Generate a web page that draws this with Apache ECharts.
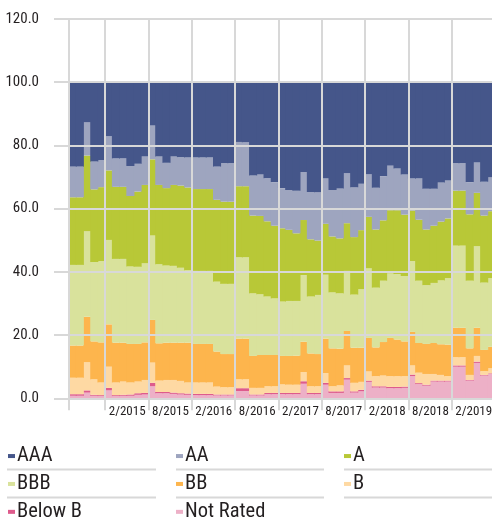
<!DOCTYPE html>
<html><head><meta charset="utf-8">
<script src="https://cdn.jsdelivr.net/npm/echarts@6/dist/echarts.min.js"></script>
<style>html,body{margin:0;padding:0;background:#fff}#c{width:492px;height:521px}</style>
</head><body><div id="c"></div>
<script>
const categories = ['9/2014','10/2014','11/2014','12/2014',
 '1/2015','2/2015','3/2015','4/2015','5/2015','6/2015','7/2015','8/2015','9/2015','10/2015','11/2015','12/2015',
 '1/2016','2/2016','3/2016','4/2016','5/2016','6/2016','7/2016','8/2016','9/2016','10/2016','11/2016','12/2016',
 '1/2017','2/2017','3/2017','4/2017','5/2017','6/2017','7/2017','8/2017','9/2017','10/2017','11/2017','12/2017',
 '1/2018','2/2018','3/2018','4/2018','5/2018','6/2018','7/2018','8/2018','9/2018','10/2018','11/2018','12/2018',
 '1/2019','2/2019','3/2019','4/2019','5/2019','6/2019','7/2019'];
const tickLabels = ['2/2015','8/2015','2/2016','8/2016','2/2017','8/2017','2/2018','8/2018','2/2019'];
const yTicks = [0, 20, 40, 60, 80, 100, 120];

const AAA = [26.7,26.7,12.7,25.1,24.6,17.1,24.1,24.1,26.5,25.8, 23.5,13.7,23.5,25.5,23.5,23.7,23.8,23.8,23.8,23.8, 26.7,25.6,25.6,18.9,19.0,29.5,29.2,30.4,31.6,33.5, 34.1,34.3,28.4,34.7,34.8,30.5,34.1,33.6,28.8,33.2, 32.1,29.1,33.4,29.7,26.4,27.3,29.2,30.5,30.5,33.7, 33.7,31.8,31.1,25.6,25.6,31.5,25.4,31.5,30.1];
const AA = [9.7,9.7,10.5,8.8,8.6,10.8,9.0,9.0,9.5,8.8, 9.0,10.7,9.0,8.0,9.0,9.0,9.5,10.0,10.0,10.0, 10.5,12.2,12.2,14.0,13.9,12.7,13.1,13.6,13.8,12.7, 12.6,13.5,15.2,15.0,15.3,14.3,14.7,15.8,15.8,15.8, 14.7,13.5,13.2,14.0,14.1,13.2,12.7,10.1,13.0,12.9, 11.7,12.4,12.0,8.7,8.7,10.2,9.6,10.7,10.7];
const A = [21.4,21.4,23.9,23.0,23.4,22.0,22.8,22.8,22.3,23.8, 24.8,24.1,25.1,24.5,25.6,26.0,26.2,25.9,25.9,25.9, 25.9,26.0,26.0,22.5,22.5,24.6,24.8,23.8,23.0,23.2, 22.5,21.4,17.4,18.1,17.2,16.1,17.7,17.4,15.1,18.2, 18.7,16.3,18.4,19.1,20.0,20.2,19.4,16.0,19.3,17.6, 18.1,18.6,18.9,17.4,17.4,21.0,16.9,21.2,21.2];
const BBB = [25.5,25.5,27.1,25.1,25.7,26.7,26.5,26.5,24.5,24.4, 25.0,26.7,25.0,24.4,24.3,23.7,22.9,23.1,23.1,23.1, 22.1,22.2,22.2,25.7,25.7,19.8,19.2,18.5,17.9,17.2, 17.4,17.3,21.1,18.0,18.7,20.2,17.7,17.5,19.0,16.8, 18.5,22.0,18.9,19.4,20.4,20.7,20.7,22.4,19.7,18.6, 19.0,20.2,21.0,26.0,26.0,21.4,25.8,21.3,21.7];
const BB = [10.2,10.2,14.4,12.0,12.7,13.4,12.6,12.3,12.2,11.9, 11.9,13.5,11.8,11.8,11.8,12.1,12.6,12.2,12.2,12.2, 11.1,10.5,10.5,12.9,12.9,10.1,10.4,9.9,9.9,9.0, 9.1,9.2,9.6,10.4,10.2,10.9,12.0,11.6,10.9,11.1, 10.8,10.6,9.1,10.6,12.1,11.6,11.0,10.6,9.4,9.5, 9.8,9.7,10.0,9.3,9.3,8.4,8.9,6.7,6.8];
const B = [5.2,5.2,8.9,4.9,4.0,6.7,4.0,4.2,3.8,3.7, 4.1,6.4,3.6,3.8,4.0,3.9,3.5,3.6,3.6,3.6, 2.5,2.3,2.3,2.8,2.8,2.1,2.1,2.1,2.1,2.7, 2.6,2.6,2.9,2.1,2.1,3.1,1.6,1.9,4.0,2.7, 2.5,2.9,3.2,3.4,3.4,3.4,3.3,2.9,3.3,3.4, 2.1,1.8,1.4,2.6,2.6,1.6,1.8,1.2,1.6];
const BelowB = [0.5,0.5,0.7,0.3,0.3,0.8,0.3,0.3,0.4,0.5, 0.5,1.1,0.4,0.4,0.4,0.4,0.4,0.4,0.4,0.4, 0.3,0.3,0.3,0.9,0.9,0.3,0.3,0.4,0.4,0.4, 0.4,0.4,0.8,0.4,0.4,0.6,0.5,0.5,0.5,0.4, 0.5,0.4,0.4,0.4,0.4,0.4,0.4,0.5,0.3,0.3, 0.3,0.3,0.3,0.4,0.4,0.2,0.4,0.2,0.2];
const NotRated = [0.8,0.8,1.8,0.8,0.7,2.5,0.7,0.8,0.8,1.1, 1.2,3.8,1.6,1.6,1.4,1.2,1.1,1.0,1.0,1.0, 0.9,0.9,0.9,2.3,2.3,0.9,0.9,1.3,1.3,1.3, 1.3,1.3,4.6,1.3,1.3,4.3,1.7,1.7,5.9,1.8, 2.2,5.2,3.4,3.4,3.2,3.2,3.3,7.0,4.5,4.0, 5.3,5.3,5.3,10.0,10.0,5.6,11.2,7.2,7.7];

// ---- font selection: prefer a narrow face, size to the reference's text boxes
const probe = document.createElement('canvas').getContext('2d');
function hasFont(f) {
  const s = 'AAA Not Rated 0123456789 mmmwwwiii';
  const out = [];
  for (const fb of ['monospace', 'serif']) {
    probe.font = '40px ' + fb; const a = probe.measureText(s).width;
    probe.font = '40px "' + f + '", ' + fb; const b = probe.measureText(s).width;
    out.push(a !== b);
  }
  return out[0] || out[1];
}
const fontCands = ['Liberation Sans Narrow', 'Arial Narrow', 'Noto Sans ExtraCondensed', 'Noto Sans Condensed',
  'Roboto Condensed', 'Open Sans Condensed', 'DejaVu Sans Condensed', 'Liberation Sans'];
let FONT_NAME = 'sans-serif';
for (const f of fontCands) { if (hasFont(f)) { FONT_NAME = f; break; } }
const FONT = '"' + FONT_NAME + '", sans-serif';
function fitSize(text, targetW, targetCap, maxW) {
  probe.font = '100px ' + FONT;
  const w = probe.measureText(text).width / 100;
  const m = probe.measureText('H');
  const cap = (m.actualBoundingBoxAscent || 71.6) / 100;
  let s = Math.sqrt((targetW / w) * (targetCap / cap));
  if (maxW && s * w > maxW) s = maxW / w;
  return Math.round(s * 2) / 2;
}
const ySize = fitSize('120.0', 32, 11.7, 34);
const xSize = fitSize('2/2015', 36.5, 11, 36.5);
const legSize = fitSize('Not Rated', 78, 15, 84);

const GRID = '#d8d8d8';
const TXT = '#231f20';

// bottom-up stacking order
const seriesDefs = [
  ['Not Rated', NotRated, '#edb0c7'],
  ['Below B', BelowB, '#de5b8c'],
  ['B', B, '#fed9a3'],
  ['BB', BB, '#fdb54d'],
  ['BBB', BBB, '#d9e29c'],
  ['A', A, '#b8c837'],
  ['AA', AA, '#9ea5bf'],
  ['AAA', AAA, '#45568a']
];

const isTick = (i, v) => i === 0 || tickLabels.indexOf(v) >= 0;

const legLH = legSize;
const legendBase = {
  orient: 'vertical', top: 455.8 - legLH / 2, height: 120, padding: 0,
  itemWidth: 7, itemHeight: 4, itemGap: 27.4 - legLH,
  icon: 'rect', selectedMode: false,
  textStyle: { fontSize: legSize, lineHeight: legLH, color: TXT, fontFamily: FONT, padding: [0, 0, 0, -3] }
};

const lineSegs = [[7,156],[176,324],[344,492]];
const graphics = [];
[469.5, 497.5].forEach(y => lineSegs.forEach(s => graphics.push({
  type: 'line', shape: { x1: s[0], y1: y, x2: s[1], y2: y },
  style: { stroke: GRID, lineWidth: 2 }, silent: true
})));

const chart = echarts.init(document.getElementById('c'), null, { renderer: 'canvas' });
chart.setOption({
  animation: false,
  textStyle: { fontFamily: FONT },
  grid: { left: 69, right: -3, top: 19, bottom: 122.7, containLabel: false, outerBoundsMode: 'none' },
  xAxis: {
    type: 'category', data: categories, boundaryGap: true, z: 10,
    axisLine: { show: false },
    axisTick: { show: true, length: 12, interval: isTick, lineStyle: { color: GRID, width: 2 } },
    splitLine: { show: true, interval: isTick, lineStyle: { color: GRID, width: 2 } },
    axisLabel: {
      interval: (i, v) => tickLabels.indexOf(v) >= 0,
      showMinLabel: true, showMaxLabel: true, hideOverlap: false,
      align: 'left', margin: 7, fontSize: xSize, color: TXT, fontFamily: FONT
    }
  },
  yAxis: {
    type: 'value', min: yTicks[0], max: yTicks[yTicks.length - 1], interval: 20, z: 10,
    axisLine: { show: false },
    axisTick: { show: true, length: 15, lineStyle: { color: GRID, width: 2 } },
    splitLine: { show: true, lineStyle: { color: GRID, width: 2 } },
    axisLabel: { formatter: v => v.toFixed(1), margin: 30, fontSize: ySize, color: TXT, fontFamily: FONT }
  },
  legend: [
    Object.assign({}, legendBase, { left: 8, data: ['AAA', 'BBB', 'Below B'] }),
    Object.assign({}, legendBase, { left: 176, data: ['AA', 'BB', 'Not Rated'] }),
    Object.assign({}, legendBase, { left: 344, data: ['A', 'B'] })
  ],
  graphic: graphics,
  series: seriesDefs.map(d => ({
    name: d[0], type: 'bar', stack: 'total', data: d[1],
    barWidth: '112%',
    itemStyle: { color: d[2], borderWidth: 0 },
    emphasis: { disabled: true }
  }))
});
</script>
</body></html>
